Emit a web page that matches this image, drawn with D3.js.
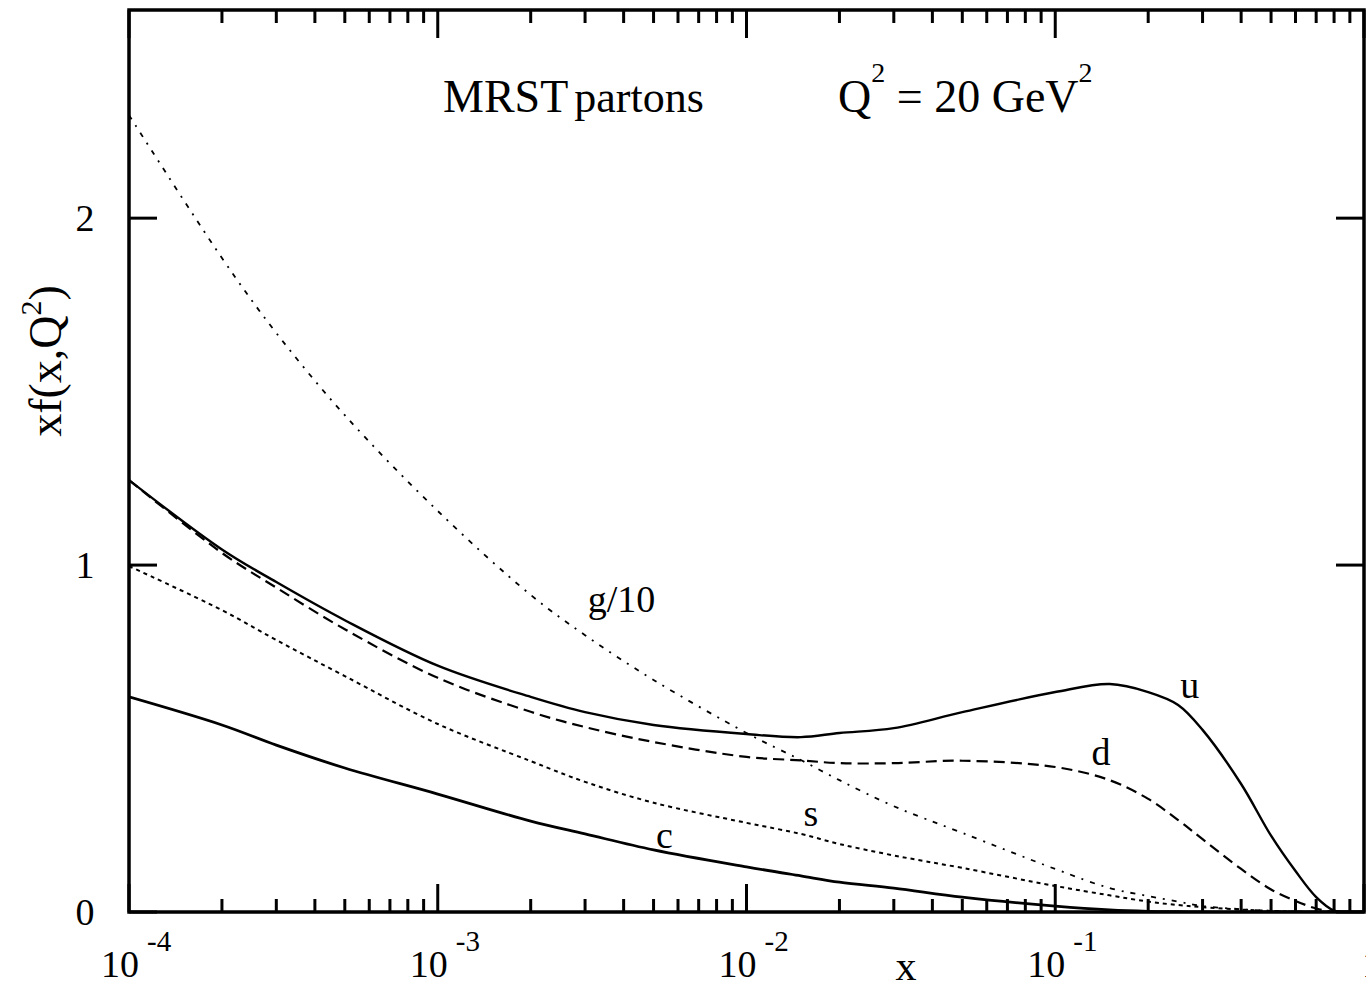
<!DOCTYPE html>
<html>
<head>
<meta charset="utf-8">
<script src="https://cdn.jsdelivr.net/npm/d3@7"></script>
<style>
  html, body { margin: 0; padding: 0; background: #fff; overflow: hidden; }
  text { font-family: "Liberation Serif", "DejaVu Serif", serif; fill: #000; }
</style>
</head>
<body>
<svg id="chart" width="1366" height="986"></svg>
<script>
// ---- data ----
const xGrid = [1e-4, 2e-4, 3e-4, 5e-4, 1e-3, 2e-3, 3e-3, 5e-3, 1e-2, 1.5e-2, 2e-2, 3e-2, 5e-2,
               0.1, 0.15, 0.2, 0.25, 0.3, 0.4, 0.5, 0.6, 0.7, 0.8, 0.9, 1.0];
const uVals = [1.245, 1.045, 0.951, 0.841, 0.710, 0.620, 0.576, 0.539, 0.513, 0.504, 0.516, 0.530, 0.576,
               0.634, 0.657, 0.634, 0.597, 0.525, 0.369, 0.220, 0.118, 0.043, 0.004, 0, 0];
const dVals = [1.245, 1.035, 0.935, 0.815, 0.675, 0.577, 0.533, 0.490, 0.447, 0.437, 0.429, 0.429, 0.436,
               0.418, 0.380, 0.326, 0.265, 0.210, 0.124, 0.065, 0.032, 0.010, 0, 0, 0];
const sVals = [0.997, 0.870, 0.784, 0.680, 0.542, 0.435, 0.375, 0.315, 0.257, 0.225, 0.196, 0.163, 0.127,
               0.075, 0.048, 0.030, 0.020, 0.014, 0.007, 0.003, 0.001, 0, 0, 0, 0];
const cVals = [0.620, 0.539, 0.481, 0.415, 0.340, 0.262, 0.225, 0.179, 0.130, 0.104, 0.086, 0.069, 0.043,
               0.017, 0.006, 0.002, 0.001, 0, 0, 0, 0, 0, 0, 0, 0];
const gVals = [2.297, 1.885, 1.669, 1.432, 1.156, 0.914, 0.798, 0.669, 0.516, 0.438, 0.380, 0.305, 0.228,
               0.124, 0.069, 0.046, 0.030, 0.017, 0.008, 0.003, 0.001, 0, 0, 0, 0];
const seriesNames = ["u", "d", "s", "c", "g/10"];
const labelX = [0.254, 0.131, 0.0153, 5.09e-3, 3.06e-3];
const labelY = [0.617, 0.424, 0.248, 0.184, 0.865];
const xMajorTicks = [1e-4, 1e-3, 1e-2, 1e-1, 1];
const xTickExp = ["-4", "-3", "-2", "-1", ""];
const yTicks = [0, 1, 2];
const yTickLabels = ["0", "1", "2"];

// ---- layout ----
const svg = d3.select("#chart");
const L = 129, R = 1364, T = 10, B = 912;
const x = d3.scaleLog().domain([1e-4, 1]).range([L, R]);
const y = d3.scaleLinear().domain([0, 2.6]).range([B, T]);

const styles = {
  "u":    { width: 2.4, dash: null },
  "d":    { width: 2.2, dash: "11,6" },
  "s":    { width: 2.0, dash: "4,4" },
  "c":    { width: 2.8, dash: null },
  "g/10": { width: 1.8, dash: "5,7,2,7" }
};
const valuesBy = { "u": uVals, "d": dVals, "s": sVals, "c": cVals, "g/10": gVals };

const clipId = "plotclip";
svg.append("clipPath").attr("id", clipId)
  .append("rect").attr("x", L).attr("y", T).attr("width", R - L).attr("height", B - T);

const line = d3.line()
  .x(d => x(d[0]))
  .y(d => y(Math.max(0, d[1])))
  .curve(d3.curveCatmullRom.alpha(0.5));

const plot = svg.append("g").attr("clip-path", `url(#${clipId})`);
seriesNames.forEach(name => {
  const pts = xGrid.map((xv, i) => [xv, valuesBy[name][i]]);
  plot.append("path")
    .attr("d", line(pts))
    .attr("fill", "none")
    .attr("stroke", "#000")
    .attr("stroke-width", styles[name].width)
    .attr("stroke-dasharray", styles[name].dash);
});

// ---- frame ----
svg.append("rect")
  .attr("x", L).attr("y", T).attr("width", R - L).attr("height", B - T)
  .attr("fill", "none").attr("stroke", "#000").attr("stroke-width", 3.5);

// ---- x ticks ----
const minorX = [];
for (let e = -4; e < 0; e++) for (let m = 2; m <= 9; m++) minorX.push(m * Math.pow(10, e));
const tickG = svg.append("g").attr("stroke", "#000").attr("stroke-width", 3);
minorX.forEach(v => {
  tickG.append("line").attr("x1", x(v)).attr("x2", x(v)).attr("y1", B).attr("y2", B - 13);
  tickG.append("line").attr("x1", x(v)).attr("x2", x(v)).attr("y1", T).attr("y2", T + 13);
});
xMajorTicks.forEach(v => {
  tickG.append("line").attr("x1", x(v)).attr("x2", x(v)).attr("y1", B).attr("y2", B - 28);
  tickG.append("line").attr("x1", x(v)).attr("x2", x(v)).attr("y1", T).attr("y2", T + 28);
});
// ---- y ticks ----
yTicks.forEach(v => {
  tickG.append("line").attr("x1", L).attr("x2", L + 28).attr("y1", y(v)).attr("y2", y(v));
  tickG.append("line").attr("x1", R).attr("x2", R - 28).attr("y1", y(v)).attr("y2", y(v));
});

// ---- tick labels ----
xMajorTicks.forEach((v, i) => {
  if (xTickExp[i] === "") {
    svg.append("text").attr("x", x(v) - 2).attr("y", 977)
      .attr("font-size", 38).text("1");
    return;
  }
  const t = svg.append("text").attr("x", x(v) - 28).attr("y", 977).attr("font-size", 38);
  t.append("tspan").text("10");
  t.append("tspan").attr("dx", 8).attr("dy", -26).attr("font-size", 29).text(xTickExp[i]);
});
yTicks.forEach((v, i) => {
  svg.append("text").attr("x", 85).attr("y", y(v) + 13)
    .attr("text-anchor", "middle").attr("font-size", 38).text(yTickLabels[i]);
});

// ---- axis titles ----
svg.append("text").attr("x", 906).attr("y", 980).attr("text-anchor", "middle")
  .attr("font-size", 42).text("x");
const yt = svg.append("text")
  .attr("transform", "translate(61,361) rotate(-90)")
  .attr("text-anchor", "middle").attr("font-size", 46);
yt.append("tspan").text("xf(x,Q");
yt.append("tspan").attr("dy", -20).attr("font-size", 30).text("2");
yt.append("tspan").attr("dy", 20).text(")");

// ---- title ----
const t1 = svg.append("text").attr("x", 443).attr("y", 112).attr("font-size", 46);
t1.append("tspan").text("MRST");
t1.append("tspan").attr("dx", 6).attr("font-size", 44).text("partons");
const t2 = svg.append("text").attr("x", 838).attr("y", 112).attr("font-size", 46);
t2.append("tspan").text("Q");
t2.append("tspan").attr("dy", -30).attr("font-size", 28).text("2");
t2.append("tspan").attr("dy", 30).text(" = 20 GeV");
t2.append("tspan").attr("dy", -30).attr("font-size", 28).text("2");

// ---- curve labels ----
seriesNames.forEach((name, i) => {
  svg.append("text").attr("x", x(labelX[i])).attr("y", y(labelY[i]))
    .attr("font-size", 38).text(name);
});
</script>
</body>
</html>
